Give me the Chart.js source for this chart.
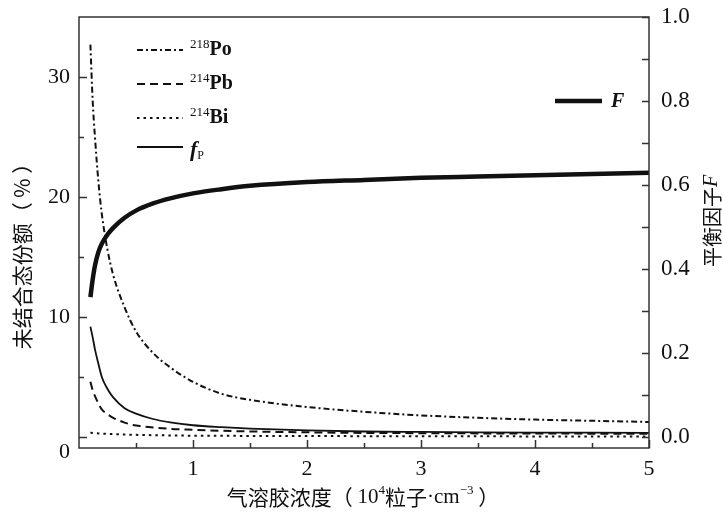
<!DOCTYPE html>
<html>
<head>
<meta charset="utf-8">
<script src="https://cdn.jsdelivr.net/npm/chart.js@4/dist/chart.umd.min.js"></script>
<style>
  html, body { margin: 0; padding: 0; background: #fff; }
  canvas { display: block; }
</style>
</head>
<body>
<canvas id="chart" width="723" height="517"></canvas>
<script>
// Aerosol concentration (10^4 particles per cm^3)
const conc  = [0.1, 0.12, 0.14, 0.17, 0.2, 0.25, 0.3, 0.4, 0.5, 0.65, 0.8, 1.0, 1.25, 1.5, 2.0, 2.5, 3.0, 3.5, 4.0, 4.5, 5.0];
// Unattached fractions (%)
const po218 = [32.7, 28.0, 25.0, 21.3, 18.6, 15.6, 13.5, 10.8, 8.8, 7.0, 5.8, 4.6, 3.6, 3.1, 2.5, 2.1, 1.8, 1.6, 1.45, 1.35, 1.25];
const pb214 = [4.6, 3.9, 3.4, 2.8, 2.3, 1.9, 1.6, 1.2, 0.95, 0.8, 0.68, 0.6, 0.52, 0.46, 0.39, 0.34, 0.32, 0.3, 0.29, 0.28, 0.27];
const bi214 = [0.35, 0.34, 0.32, 0.3, 0.28, 0.26, 0.24, 0.21, 0.18, 0.15, 0.13, 0.11, 0.1, 0.09, 0.08, 0.07, 0.06, 0.06, 0.05, 0.05, 0.05];
const fp    = [9.2, 8.3, 7.3, 6.1, 5.0, 4.0, 3.3, 2.4, 1.95, 1.5, 1.22, 0.98, 0.82, 0.7, 0.55, 0.46, 0.42, 0.39, 0.37, 0.36, 0.35];
// Equilibrium factor F
const eqF   = [0.333, 0.375, 0.408, 0.44, 0.46, 0.482, 0.498, 0.522, 0.539, 0.556, 0.568, 0.58, 0.59, 0.598, 0.607, 0.612, 0.617, 0.62, 0.623, 0.626, 0.629];

// Axis ticks
const xTicks      = [0.5, 1, 1.5, 2, 2.5, 3, 3.5, 4, 4.5, 5];
const xLabelled   = [1, 2, 3, 4, 5];
const yTicks      = [0, 5, 10, 15, 20, 25, 30];
const yLabelled   = [10, 20, 30];
const y2Ticks     = [0, 0.1, 0.2, 0.3, 0.4, 0.5, 0.6, 0.7, 0.8, 0.9, 1.0];
const y2Labelled  = [0, 0.2, 0.4, 0.6, 0.8, 1.0];

const SERIF = '"Liberation Serif", "Times New Roman", serif';
const CJK = '"Noto Sans CJK SC", "Noto Sans", sans-serif';
const INK = '#111';

const pts = (ys) => conc.map((x, i) => ({ x: x, y: ys[i] }));

const styles = {
  po: { dash: [6, 3, 2, 3], width: 2 },
  pb: { dash: [8, 5], width: 2 },
  bi: { dash: [2.5, 4], width: 2 },
  fp: { dash: [], width: 1.8 },
  F:  { dash: [], width: 4.5 }
};

function series(ys, st, axis) {
  return {
    data: pts(ys), yAxisID: axis, borderColor: INK, borderWidth: st.width,
    borderDash: st.dash, pointRadius: 0, fill: false,
    cubicInterpolationMode: 'monotone', borderCapStyle: 'butt'
  };
}

// Draws a run of text pieces (font, vertical offset) starting at x
function richWidth(ctx, parts) {
  let w = 0;
  for (const p of parts) { ctx.font = p.font; w += ctx.measureText(p.t).width; }
  return w;
}
function drawRich(ctx, parts, x, y) {
  let cx = x;
  for (const p of parts) {
    ctx.font = p.font;
    ctx.fillText(p.t, cx, y + (p.dy || 0));
    cx += ctx.measureText(p.t).width;
  }
}

// fixed axis box sizes, no extra margin for end labels
function fixBox(size) {
  return (s) => {
    if (s.isHorizontal()) s.height = size; else s.width = size;
    s.paddingTop = 0; s.paddingBottom = 0; s.paddingLeft = 0; s.paddingRight = 0;
  };
}

const frameAndText = {
  id: 'frameAndText',
  afterDraw(chart) {
    const ctx = chart.ctx;
    const a = chart.chartArea;
    const sx = chart.scales.x, sy = chart.scales.y, sy2 = chart.scales.y2;
    ctx.save();
    ctx.strokeStyle = '#333';
    ctx.lineWidth = 1.5;
    ctx.setLineDash([]);
    ctx.strokeRect(a.left, a.top, a.right - a.left, a.bottom - a.top);

    // inward tick marks
    ctx.beginPath();
    for (const v of yTicks) {
      const py = Math.round(sy.getPixelForValue(v)) + 0.5;
      const len = (v % 10 === 0) ? 8 : 5;
      ctx.moveTo(a.left, py); ctx.lineTo(a.left + len, py);
    }
    for (const v of xTicks) {
      const px = Math.round(sx.getPixelForValue(v)) + 0.5;
      const len = xLabelled.includes(v) ? 8 : 5;
      ctx.moveTo(px, a.bottom); ctx.lineTo(px, a.bottom - len);
    }
    for (const v of y2Ticks) {
      const py = Math.round(sy2.getPixelForValue(v)) + 0.5;
      ctx.moveTo(a.right, py); ctx.lineTo(a.right - 7, py);
    }
    ctx.stroke();

    ctx.fillStyle = INK;

    // origin label of the left axis, set at the frame corner
    ctx.textBaseline = 'middle';
    ctx.textAlign = 'right';
    ctx.font = '22px ' + SERIF;
    ctx.fillText('0', a.left - 9, a.bottom + 4);
    ctx.textAlign = 'left';

    // legend for the left-axis curves
    const lx0 = 137, lx1 = 183, tx = 190;
    const rows = [
      { y: 50, st: styles.po, parts: [{ t: '218', font: '13px ' + SERIF, dy: -5 }, { t: 'Po', font: 'bold 20px ' + SERIF }] },
      { y: 84, st: styles.pb, parts: [{ t: '214', font: '13px ' + SERIF, dy: -5 }, { t: 'Pb', font: 'bold 20px ' + SERIF }] },
      { y: 118, st: styles.bi, parts: [{ t: '214', font: '13px ' + SERIF, dy: -5 }, { t: 'Bi', font: 'bold 20px ' + SERIF }] },
      { y: 147, st: styles.fp, parts: [{ t: 'f', font: 'italic bold 22px ' + SERIF, dy: 3 }, { t: 'P', font: '12px ' + SERIF, dy: 9 }] }
    ];
    for (const r of rows) {
      ctx.beginPath();
      ctx.lineWidth = r.st.width;
      ctx.setLineDash(r.st.dash);
      ctx.moveTo(lx0, r.y); ctx.lineTo(lx1, r.y);
      ctx.strokeStyle = INK;
      ctx.stroke();
      ctx.setLineDash([]);
      drawRich(ctx, r.parts, tx, r.y);
    }
    // legend for F
    ctx.beginPath();
    ctx.lineWidth = styles.F.width;
    ctx.moveTo(555, 101); ctx.lineTo(602, 101);
    ctx.stroke();
    drawRich(ctx, [{ t: 'F', font: 'italic bold 20px ' + SERIF }], 611, 102);

    // x-axis title
    const xParts = [
      { t: '气溶胶浓度（ ', font: '21px ' + CJK },
      { t: '10', font: '21px ' + SERIF },
      { t: '4', font: '13px ' + SERIF, dy: -6 },
      { t: '粒子', font: '21px ' + CJK },
      { t: '·cm', font: '21px ' + SERIF },
      { t: '−3', font: '13px ' + SERIF, dy: -6 },
      { t: ' ）', font: '21px ' + CJK }
    ];
    const xw = richWidth(ctx, xParts);
    drawRich(ctx, xParts, 363 - xw / 2, 497);

    // left y-axis title
    ctx.save();
    ctx.translate(22, 251);
    ctx.rotate(-Math.PI / 2);
    const lParts = [{ t: '未结合态份额（ % ）', font: '21px ' + CJK }];
    const lw = richWidth(ctx, lParts);
    drawRich(ctx, lParts, -lw / 2, 0);
    ctx.restore();

    // right y-axis title
    ctx.save();
    ctx.translate(712, 221);
    ctx.rotate(-Math.PI / 2);
    const rParts = [{ t: '平衡因子', font: '20px ' + CJK }, { t: 'F', font: 'italic 20px ' + SERIF }];
    const rw = richWidth(ctx, rParts);
    drawRich(ctx, rParts, -rw / 2, 0);
    ctx.restore();

    ctx.restore();
  }
};

new Chart(document.getElementById('chart'), {
  type: 'line',
  data: {
    datasets: [
      series(po218, styles.po, 'y'),
      series(pb214, styles.pb, 'y'),
      series(bi214, styles.bi, 'y'),
      series(fp, styles.fp, 'y'),
      series(eqF, styles.F, 'y2')
    ]
  },
  options: {
    responsive: false,
    animation: false,
    events: [],
    layout: { padding: { top: 17, left: 0, right: 0, bottom: 0 } },
    plugins: { legend: { display: false }, tooltip: { enabled: false }, title: { display: false } },
    scales: {
      x: {
        type: 'linear', position: 'bottom', min: 0, max: 5,
        grid: { display: false, drawTicks: false }, border: { display: false },
        afterBuildTicks: (s) => { s.ticks = xTicks.map(v => ({ value: v })); },
        afterFit: fixBox(69),
        ticks: {
          autoSkip: false, maxRotation: 0, padding: 8, color: INK,
          font: { family: SERIF, size: 22 },
          callback: (v) => xLabelled.includes(v) ? String(v) : ''
        }
      },
      y: {
        type: 'linear', position: 'left', min: -11 / 12, max: 35,
        grid: { display: false, drawTicks: false }, border: { display: false },
        afterBuildTicks: (s) => { s.ticks = yTicks.map(v => ({ value: v })); },
        afterFit: fixBox(79),
        ticks: {
          autoSkip: false, padding: 9, color: INK,
          font: { family: SERIF, size: 22 },
          callback: (v) => yLabelled.includes(v) ? String(v) : ''
        }
      },
      y2: {
        type: 'linear', position: 'right', min: -11 / 420, max: 1,
        grid: { display: false, drawTicks: false }, border: { display: false },
        afterBuildTicks: (s) => { s.ticks = y2Ticks.map(v => ({ value: v })); },
        afterFit: fixBox(74),
        ticks: {
          autoSkip: false, padding: 12, color: INK,
          font: { family: SERIF, size: 23 },
          callback: (v) => y2Labelled.includes(v) ? v.toFixed(1) : ''
        }
      }
    }
  },
  plugins: [frameAndText]
});
</script>
</body>
</html>
